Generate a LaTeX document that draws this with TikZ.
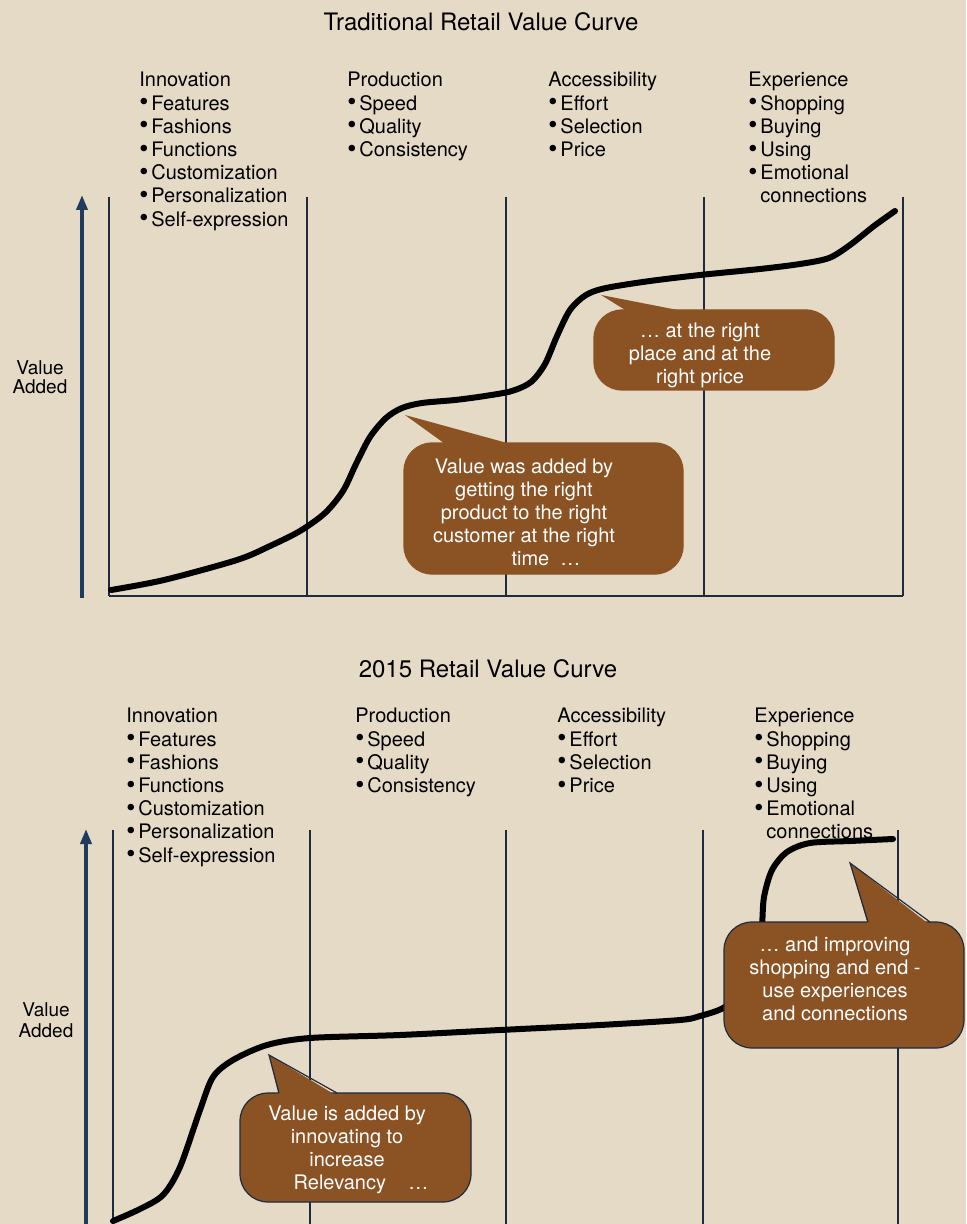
\documentclass[tikz,border=0pt]{standalone}
\usepackage{fontspec}
\setmainfont{TeX Gyre Heros}
\usetikzlibrary{arrows.meta}
\usetikzlibrary{positioning}
\definecolor{paper}{HTML}{E5DAC5}
\definecolor{bark}{HTML}{8B5224}
\definecolor{ink}{HTML}{1C2B40}
\definecolor{axisblue}{HTML}{1F3B5E}
\newcommand{\dotitem}{\makebox[6pt][l]{\raisebox{-0.3pt}{\fontsize{13}{13}\selectfont\textbullet}}}

\begin{document}
\begin{tikzpicture}[x=0.5pt,y=-0.5pt,
    col node/.style={anchor=north west,align=left,inner sep=0pt,font=\fontsize{10}{11.6}\selectfont},
    title node/.style={inner sep=0pt,font=\fontsize{12}{14}\selectfont},
    axis label/.style={align=center,inner sep=0pt,font=\fontsize{9.5}{9.5}\selectfont},
    bubble/.style={fill=bark,draw=bark,line width=0.6pt,rounded corners=14pt},
    bubble edge/.style={fill=bark,draw=ink,line width=0.6pt,rounded corners=14pt},
    bubble text/.style={align=center,inner sep=0pt,text=white,font=\fontsize{10}{11.5}\selectfont},
    grid line/.style={ink,line width=0.75pt},
    value axis/.style={-{Triangle[length=7.5pt,width=5.5pt]},axisblue,line width=1.8pt},
    curve/.style={black,line width=3pt,line cap=round,line join=round}]
  \fill[paper] (0,0) rectangle (966,1224);
  \useasboundingbox (0,0) rectangle (966,1224);

  % upper chart
  \node[title node] (titleA) at (481,22) {Traditional Retail Value Curve};
  \node[col node] (innovA) at (139,72) {Innovation\\\dotitem Features\\\dotitem Fashions\\\dotitem Functions\\\dotitem Customization\\\dotitem Personalization\\\dotitem Self-expression};
  \node[col node] (prodA) at (347,72) {Production\\\dotitem Speed\\\dotitem Quality\\\dotitem Consistency};
  \node[col node] (accA) at (548,72) {Accessibility\\\dotitem Effort\\\dotitem Selection\\\dotitem Price};
  \node[col node] (expA) at (748,72) {Experience\\\dotitem Shopping\\\dotitem Buying\\\dotitem Using\\\dotitem Emotional\\\hspace*{6pt}connections};
  \node[axis label] (valueA) at (40,377) {Value\\Added};
  \coordinate (axisA foot) at (82,598);
  \coordinate (axisA head) at (82,195);
  \draw[value axis] (axisA foot) -- (axisA head);
  \foreach \x in {109,307,506,704,903}
    \draw[grid line] (\x,197) -- (\x,596);
  \draw[grid line] (109,596) -- (903,596);
  \draw[curve] plot[smooth,tension=0.5] coordinates {(111,590) (164,580) (237,560) (270,546) (300,531) (325,513) (343,491) (356,464) (370,437) (386,418) (402,408) (422,403) (455,400) (485,396) (512,391) (531,382) (545,364) (557,336) (570,310) (586,295) (606,288) (650,281) (700,275) (760,269) (800,264) (829,258) (850,245) (874,226) (895,211)};

  \draw[bubble] (594,310) rectangle (834,390);
  \fill[bark] (601,295) -- (630,313) -- (693,313) -- cycle;
  \node[bubble text] (noteA1) at (700,355) {\ldots{} at the right\\place and at the\\right price};

  \draw[bubble] (404,443) rectangle (683,574);
  \fill[bark] (405,415) -- (448,446) -- (518,446) -- cycle;
  \node[bubble text] (noteA2) at (524,512) {Value was added by\\getting the right\\product to the right\\customer at the right\\\hspace*{22pt}time\ \ \ldots};

  % lower chart
  \node[title node] (titleB) at (488,669) {2015 Retail Value Curve};
  \node[col node] (innovB) at (126,708) {Innovation\\\dotitem Features\\\dotitem Fashions\\\dotitem Functions\\\dotitem Customization\\\dotitem Personalization\\\dotitem Self-expression};
  \node[col node] (prodB) at (355,708) {Production\\\dotitem Speed\\\dotitem Quality\\\dotitem Consistency};
  \node[col node] (accB) at (557,708) {Accessibility\\\dotitem Effort\\\dotitem Selection\\\dotitem Price};
  \node[col node] (expB) at (754,708) {Experience\\\dotitem Shopping\\\dotitem Buying\\\dotitem Using\\\dotitem Emotional\\\hspace*{6pt}connections};
  \node[axis label,font=\fontsize{9.5}{10.5}\selectfont] (valueB) at (46,1020) {Value\\Added};
  \coordinate (axisB foot) at (86,1224);
  \coordinate (axisB head) at (86,829);
  \draw[value axis] (axisB foot) -- (axisB head);
  \foreach \x in {113,310,506,703,898}
    \draw[grid line] (\x,830) -- (\x,1224);
  \draw[curve] plot[smooth,tension=0.5] coordinates {(113,1221) (140,1209) (163,1195) (180,1167) (200,1110) (213,1077) (233,1060) (267,1045) (310,1038) (400,1035) (500,1030) (600,1025) (680,1020) (700,1016) (723,1008) (745,990) (758,960) (762,925) (764,897) (772,870) (787,852) (810,843) (850,841) (893,839)};

  \draw[bubble edge] (724,922) rectangle (964,1048);
  \fill[bark] (850,863) -- (868,925) -- (930,925) -- cycle;
  \draw[ink,line width=0.6pt] (868,922) -- (850,863) -- (930,922);
  \node[bubble text] (noteB1) at (835,979) {\ldots{} and improving\\shopping and end -\\use experiences\\and connections};

  \draw[bubble edge] (240,1093) rectangle (471,1202);
  \fill[bark] (269,1055) -- (279,1096) -- (337,1096) -- cycle;
  \draw[ink,line width=0.6pt] (279,1093) -- (269,1055) -- (337,1093);
  \node[bubble text] (noteB2) at (347,1150) {Value is added by\\innovating to\\increase\\\hspace*{14pt}Relevancy\ \ \ \ \ldots};
\end{tikzpicture}
\end{document}
